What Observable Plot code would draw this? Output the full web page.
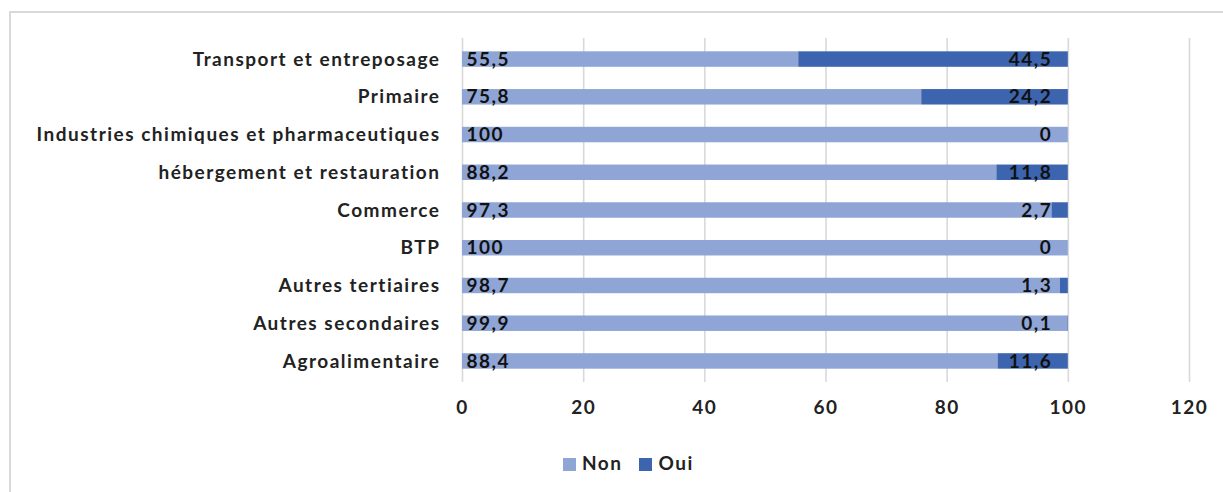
<!DOCTYPE html>
<html>
<head>
<meta charset="utf-8">
<script src="https://cdn.jsdelivr.net/npm/d3@7"></script>
<script src="https://cdn.jsdelivr.net/npm/@observablehq/plot@0.6"></script>
<style>
  html, body { margin: 0; padding: 0; background: #fff; }
  body { width: 1223px; height: 492px; position: relative; overflow: hidden; font-family: Lato, "Open Sans", sans-serif; }
  #frame { position: absolute; left: 9px; top: 11px; width: 1300px; height: 600px; border-left: 2px solid #d9d9d9; border-top: 2px solid #d9d9d9; box-sizing: border-box; }
  #chart { position: absolute; left: 0; top: 0; }
  #chart svg text { letter-spacing: 1.5px; font-weight: 700; }
  #legend { position: absolute; top: 451px; left: 563px; display: flex; align-items: center; gap: 17px; font-size: 19px; font-weight: 700; color: #222; letter-spacing: 1.5px; }
  #legend .item { display: flex; align-items: center; gap: 6px; }
  #legend .sw { width: 13px; height: 13px; display: inline-block; position: relative; top: 2px; }
</style>
</head>
<body>
<div id="frame"></div>
<div id="chart"></div>
<div id="legend"></div>
<script>
// Sectors, top to bottom
const sectors = [
  "Transport et entreposage",
  "Primaire",
  "Industries chimiques et pharmaceutiques",
  "hébergement et restauration",
  "Commerce",
  "BTP",
  "Autres tertiaires",
  "Autres secondaires",
  "Agroalimentaire"
];
// Share of answers (%)
const non = [55.5, 75.8, 100, 88.2, 97.3, 100, 98.7, 99.9, 88.4];
const oui = [44.5, 24.2, 0, 11.8, 2.7, 0, 1.3, 0.1, 11.6];
const answers = ["Non", "Oui"];
const colors = ["#8fa5d6", "#3d64ae"];
const xTicks = [0, 20, 40, 60, 80, 100, 120];

const rows = sectors.flatMap((s, i) => [
  {sector: s, answer: "Non", value: non[i]},
  {sector: s, answer: "Oui", value: oui[i]}
]);
const fmt = v => String(v).replace(".", ",");

const font = "Lato, 'Open Sans', sans-serif";

const chart = Plot.plot({
  width: 1223,
  height: 430,
  marginLeft: 462,
  marginRight: 34,
  marginTop: 40,
  marginBottom: 50,
  style: {fontFamily: font, fontSize: "19px", color: "#222", background: "transparent"},
  x: {domain: [0, 120], ticks: xTicks, grid: false, label: null, tickSize: 0, tickPadding: 20},
  y: {domain: sectors, label: null, tickSize: 0, tickPadding: 22, paddingInner: 0.59, paddingOuter: 0.3, round: false},
  color: {domain: answers, range: colors},
  marks: [
    Plot.ruleX(xTicks, {stroke: "#d9d9d9", strokeWidth: 1.6, insetTop: -2, insetBottom: -2}),
    Plot.barX(rows, Plot.stackX({order: answers, y: "sector", x: "value", fill: "answer"})),
    Plot.text(sectors, {x: 0, y: d => d, text: (d, i) => fmt(non[i]), textAnchor: "start", dx: 4, fill: "#111", fontSize: 19}),
    Plot.text(sectors, {x: 100, y: d => d, text: (d, i) => fmt(oui[i]), textAnchor: "end", dx: -16, fill: "#111", fontSize: 19})
  ]
});
document.getElementById("chart").appendChild(chart);

const leg = document.getElementById("legend");
answers.forEach((a, i) => {
  const item = document.createElement("span");
  item.className = "item";
  item.innerHTML = `<span class="sw" style="background:${colors[i]}"></span><span>${a}</span>`;
  leg.appendChild(item);
});
</script>
</body>
</html>
